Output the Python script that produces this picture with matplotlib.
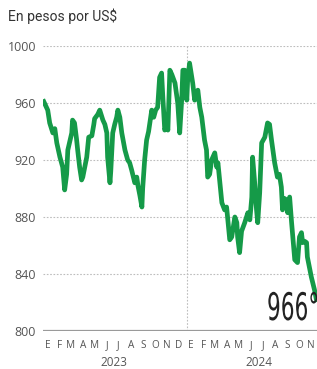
import pandas as pd
import matplotlib.pyplot as plt
from matplotlib.textpath import TextPath
from matplotlib.patches import PathPatch
from matplotlib.font_manager import FontProperties
from matplotlib.transforms import Affine2D, IdentityTransform

# Data (pesos por US$)
fechas = ['2023-01-03', '2023-01-08', '2023-01-13', '2023-01-18', '2023-01-26', '2023-01-31',
          '2023-02-05', '2023-02-13', '2023-02-20', '2023-02-25', '2023-03-02', '2023-03-05',
          '2023-03-10', '2023-03-15', '2023-03-17', '2023-03-22', '2023-03-27', '2023-03-30',
          '2023-04-04', '2023-04-09', '2023-04-12', '2023-04-17', '2023-04-22', '2023-04-27',
          '2023-05-05', '2023-05-10', '2023-05-12', '2023-05-20', '2023-05-25', '2023-06-02',
          '2023-06-07', '2023-06-12', '2023-06-14', '2023-06-20', '2023-06-22', '2023-06-27',
          '2023-07-02', '2023-07-07', '2023-07-10', '2023-07-15', '2023-07-20', '2023-07-28',
          '2023-08-04', '2023-08-09', '2023-08-14', '2023-08-22', '2023-08-27', '2023-08-30',
          '2023-09-04', '2023-09-09', '2023-09-11', '2023-09-16', '2023-09-21', '2023-09-26',
          '2023-10-04', '2023-10-09', '2023-10-14', '2023-10-19', '2023-10-24', '2023-10-29',
          '2023-11-01', '2023-11-06', '2023-11-11', '2023-11-14', '2023-11-19', '2023-11-24',
          '2023-12-02', '2023-12-09', '2023-12-14', '2023-12-19', '2023-12-22', '2023-12-27',
          '2024-01-01', '2024-01-03', '2024-01-08', '2024-01-16', '2024-01-21', '2024-01-29',
          '2024-02-03', '2024-02-08', '2024-02-15', '2024-02-20', '2024-02-23', '2024-02-28',
          '2024-03-04', '2024-03-12', '2024-03-17', '2024-03-20', '2024-03-25', '2024-03-30',
          '2024-04-06', '2024-04-11', '2024-04-19', '2024-04-24', '2024-05-02', '2024-05-07',
          '2024-05-09', '2024-05-14', '2024-05-19', '2024-05-27', '2024-06-04', '2024-06-09',
          '2024-06-14', '2024-06-16', '2024-06-21', '2024-06-26', '2024-06-29', '2024-07-04',
          '2024-07-09', '2024-07-17', '2024-07-24', '2024-07-29', '2024-08-03', '2024-08-11',
          '2024-08-18', '2024-08-23', '2024-08-28', '2024-08-31', '2024-09-05', '2024-09-10',
          '2024-09-13', '2024-09-18', '2024-09-23', '2024-10-01', '2024-10-08', '2024-10-13',
          '2024-10-18', '2024-10-21', '2024-10-26', '2024-10-31', '2024-11-02', '2024-11-07',
          '2024-11-12', '2024-11-20', '2024-11-25']
valores = [961, 958, 955, 946, 939, 942,
           932, 922, 915, 899, 910, 927,
           933, 939, 948, 946, 935, 927,
           915, 906, 908, 915, 922, 936,
           937, 945, 949, 952, 955, 948,
           945, 939, 922, 904, 912, 939,
           945, 950, 955, 950, 939, 927,
           920, 918, 913, 904, 908, 902,
           895, 887, 900, 920, 934, 940,
           955, 950, 955, 957, 978, 981,
           965, 941, 945, 941, 983, 980,
           974, 960, 939, 962, 983, 983,
           962, 975, 988, 974, 962, 969,
           957, 950, 934, 927, 908, 910,
           920, 925, 915, 918, 904, 890,
           885, 887, 864, 866, 880, 876,
           866, 855, 870, 876, 883, 878,
           894, 922, 905, 885, 876, 897,
           932, 936, 946, 945, 934, 918,
           908, 910, 901, 885, 893, 892,
           883, 894, 876, 850, 848, 866,
           869, 862, 863, 862, 852, 845,
           838, 829, 822]

meses = ['E', 'F', 'M', 'A', 'M', 'J', 'J', 'A', 'S', 'O', 'N', 'D']
anios = [2023, 2024]
yticks = [800, 840, 880, 920, 960, 1000]
ultimo = '966°'

df = pd.DataFrame({'valor': valores}, index=pd.to_datetime(fechas))

verde = '#159a48'
gris = '#555555'
plt.rcParams['font.family'] = ['Open Sans', 'DejaVu Sans']

W, H = 317, 369
fig = plt.figure(figsize=(W / 100, H / 100), dpi=100)
ax = fig.add_axes([43 / W, 38 / H, 288 / W, 285 / H])

ax.plot(df.index, df['valor'], color=verde, lw=3.4, solid_joinstyle='round', zorder=3)

ax.set_xlim(pd.Timestamp('2023-01-01'), pd.Timestamp('2025-01-01'))
ax.set_ylim(800, 1000)

for s in ax.spines.values():
    s.set_visible(False)
ax.axhline(800, color='#9a9a9a', lw=1.6, zorder=2)
for v in yticks[1:]:
    ax.axhline(v, color='#bdbdbd', lw=0.8, ls=(0, (1.5, 1.5)), zorder=1)
ax.axvline(pd.Timestamp('2024-01-01'), color='#bdbdbd', lw=0.8, ls=(0, (1.5, 1.5)), zorder=1)

ax.set_xticks([])
ax.set_yticks(yticks)
ax.set_yticklabels([str(v) for v in yticks], fontsize=9, color=gris)
ax.tick_params(axis='y', length=0, pad=5)

for anio in anios:
    for i, m in enumerate(meses):
        mid = pd.Timestamp(anio, i + 1, 12)
        ax.text(mid, -0.052, m, transform=ax.get_xaxis_transform(),
                ha='center', va='center', fontsize=7.2, color=gris)
    ax.text(pd.Timestamp(anio, 7, 1), -0.112, str(anio), transform=ax.get_xaxis_transform(),
            ha='center', va='center', fontsize=8.5, color=gris)

fig.text(8 / W, 1 - 16 / H, 'En pesos por US$', fontsize=10, color='#333333',
         ha='left', va='center', family=['Roboto', 'DejaVu Sans'])

# big condensed label near the end of the line
tp = TextPath((0, 0), ultimo, size=38, prop=FontProperties(family='Liberation Sans Narrow'))
tr = Affine2D().scale(0.57, 1).translate(267, H - 320)
fig.patches.append(PathPatch(tr.transform_path(tp), transform=IdentityTransform(),
                             facecolor='#222222', edgecolor='none', figure=fig, zorder=5))

fig.savefig('out.png', dpi=100)
